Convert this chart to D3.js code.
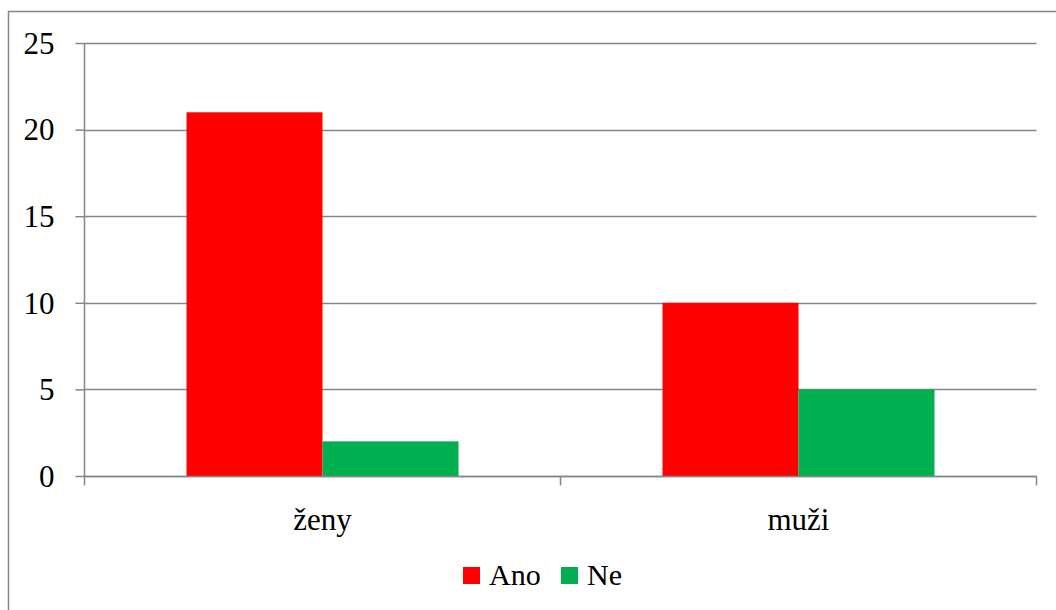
<!DOCTYPE html>
<html><head><meta charset="utf-8">
<script src="https://cdn.jsdelivr.net/npm/d3@7"></script>
<style>body{margin:0;background:#fff}svg{display:block}svg text{font-family:"Liberation Serif","Times New Roman",serif !important;font-size:31px;fill:#000}</style>
</head><body>
<svg id="c" width="1056" height="610"></svg>
<script>
const categories = ["ženy", "muži"];
const seriesNames = ["Ano", "Ne"];
const ano = [21, 10];
const ne = [2, 5];
const yTicks = [0, 5, 10, 15, 20, 25];
const colors = ["#FF0000", "#00B050"];

const svg = d3.select("#c");
const pLeft = 84.5, pRight = 1036.5, pTop = 43, pBottom = 476;

svg.append("rect").attr("x", 8.5).attr("y", 11.5).attr("width", 1060).attr("height", 610)
  .attr("fill", "none").attr("stroke", "#868686").attr("stroke-width", 1.5);

const x = d3.scaleBand().domain(categories).range([pLeft, pRight]);
const xs = d3.scaleBand().domain(seriesNames).range([0, x.bandwidth()]).paddingOuter(0.75).paddingInner(0);
const y = d3.scaleLinear().domain([0, 25]).range([pBottom, pTop]);

// gridlines
svg.append("g").selectAll("line").data(yTicks).join("line")
  .attr("x1", pLeft).attr("x2", pRight).attr("y1", d => Math.round(y(d)) + 0.5).attr("y2", d => Math.round(y(d)) + 0.5)
  .attr("stroke", "#868686").attr("stroke-width", 1.5);

// bars
const data = [ano, ne];
seriesNames.forEach((s, si) => {
  svg.append("g").selectAll("rect").data(categories).join("rect")
    .attr("x", c => x(c) + xs(s))
    .attr("width", xs.bandwidth())
    .attr("y", (c, i) => y(data[si][i]))
    .attr("height", (c, i) => y(0) - y(data[si][i]))
    .attr("fill", colors[si]);
});

// y axis
const yAxis = d3.axisLeft(y).tickValues(yTicks).tickSize(9).tickPadding(21);
const gy = svg.append("g").attr("transform", `translate(${pLeft},0)`).call(yAxis);
gy.attr("font-family", null).attr("font-size", null);
gy.selectAll("path,line").attr("stroke", "#868686").attr("stroke-width", 1.5);
gy.select(".domain").attr("d", `M0,${pTop}V${pBottom}`);
gy.selectAll("text").attr("dy", "0.33em");

// x axis
const gx = svg.append("g").attr("transform", `translate(0,${Math.round(pBottom)+0.5})`);
gx.append("line").attr("x1", pLeft).attr("x2", pRight).attr("stroke", "#868686").attr("stroke-width", 1.5);
const bounds = [pLeft, x(categories[1]), pRight];
gx.selectAll("line.t").data(bounds).join("line").attr("class", "t")
  .attr("x1", d => d).attr("x2", d => d).attr("y1", 0).attr("y2", 9)
  .attr("stroke", "#868686").attr("stroke-width", 1.5);
gx.selectAll("text").data(categories).join("text")
  .attr("x", d => x(d) + x.bandwidth() / 2).attr("y", 53.5)
  .attr("text-anchor", "middle")
  .text(d => d);

// legend
const legend = svg.append("g");
const lx = [463, 561];
seriesNames.forEach((s, i) => {
  legend.append("rect").attr("x", lx[i]).attr("y", 567).attr("width", 17).attr("height", 17).attr("fill", colors[i]);
  legend.append("text").attr("x", lx[i] + 26).attr("y", 585).style("font-size", "30px").text(s);
});
</script>
</body></html>
